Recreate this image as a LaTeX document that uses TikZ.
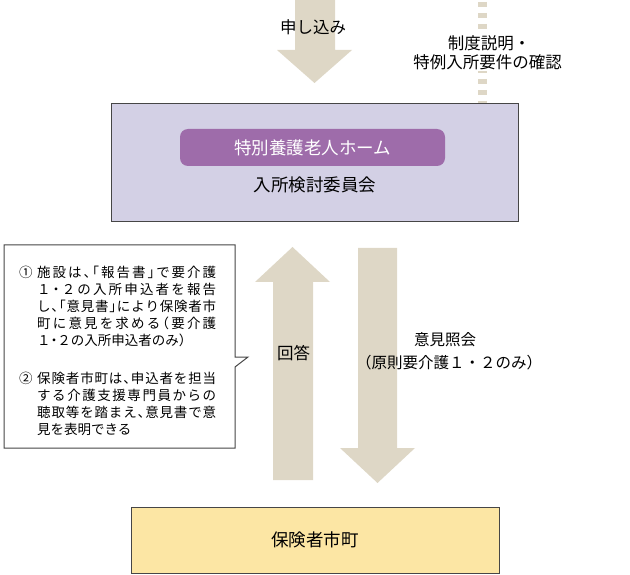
\documentclass[tikz,border=0pt]{standalone}
\usepackage{fontspec}
\setmainfont{Noto Sans CJK JP}
\newfontfamily\jpfont{Noto Sans CJK JP}
\newfontfamily\gothicnote[RawFeature=+halt]{Noto Sans CJK JP}
\definecolor{arrowbeige}{RGB}{222,215,198}
\definecolor{lavender}{RGB}{211,208,229}
\definecolor{homepurple}{RGB}{158,108,170}
\definecolor{cityyellow}{RGB}{252,230,164}
\definecolor{edgegray}{RGB}{70,70,70}
\ExplSyntaxOn
\NewDocumentCommand\spreadline{m}{\hbox~to~179pt{\tl_map_inline:nn{#1}{##1\hfil}\unskip}}
\ExplSyntaxOff
\tikzset{
  blockarrow/.style={fill=arrowbeige, draw=none},
  label16/.style={font=\jpfont\fontsize{16.5}{20}\selectfont, inner sep=1pt},
  label17/.style={font=\jpfont\fontsize{17.5}{21}\selectfont, inner sep=0pt},
  notetext/.style={font=\gothicnote\fontsize{13.5}{17}\selectfont, anchor=west, inner sep=0pt},
  boxedge/.style={draw=edgegray, line width=1pt}
}
\begin{document}
\begin{tikzpicture}[x=1pt,y=-1pt]
\useasboundingbox (0,0) rectangle (630,575);
% boxes
\node[boxedge, fill=lavender, minimum width=407pt, minimum height=118pt, inner sep=0pt] (home) at (314.5,163) {};
\node[fill=homepurple, rounded corners=8pt, minimum width=265pt, minimum height=37pt, inner sep=0pt,
      label17, text=white] (homename) at (312.5,147.5) {特別養護老人ホーム};
\node[label17] (committee) at (315,185) {入所検討委員会};
\node[boxedge, fill=cityyellow, minimum width=368pt, minimum height=66pt, inner sep=0pt,
      label17] (city) at (315,540) {保険者市町};
% top arrow (application)
\fill[blockarrow] (295,0) -- (335,0) -- (335,50) -- (352,50) -- (314.5,83) -- (277,50) -- (295,50) -- cycle;
\node[label16] (apply) at (313,27) {申し込み};
% dashed line
\coordinate (dashtop) at (482.5,2);
\coordinate (dashbot) at (home.north -| dashtop);
\draw[arrowbeige, line width=9pt, dash pattern=on 5pt off 6pt] (dashtop) -- (dashbot);
\node[label16, fill=white] (expl1) at (489,43) {制度説明・};
\node[label16, fill=white] (expl2) at (487.5,62) {特例入所要件の確認};
% up arrow (answer)
\fill[blockarrow] (273,480) -- (273,282) -- (255,282) -- (292.5,247) -- (330,282) -- (313,282) -- (313,480) -- cycle;
\node[label16] (answer) at (293.5,353) {回答};
% down arrow (opinion request)
\fill[blockarrow] (358,248) -- (397,248) -- (397,448) -- (415,448) -- (377.5,483) -- (340,448) -- (358,448) -- cycle;
\node[font=\jpfont\fontsize{15.5}{19}\selectfont, inner sep=0pt] (req1) at (445,340) {意見照会};
\node[font=\jpfont\fontsize{15.5}{19}\selectfont, inner sep=0pt] (req2) at (449,363) {（原則要介護１・２のみ）};
% callout
\draw[draw=edgegray, line width=1pt, fill=white] (4,245) -- (235,245) -- (235,357) -- (248,357) -- (235,367) -- (235,448) -- (4,448) -- cycle;
\node[notetext] (n1a) at (19,272) {①};
\node[notetext] (n1b) at (37,272) {\spreadline{施設は、「報告書」で要介護}};
\node[notetext] (n1c) at (37,289) {\spreadline{１・２の入所申込者を報告}};
\node[notetext] (n1d) at (37,306) {\spreadline{し、「意見書」により保険者市}};
\node[notetext] (n1e) at (37,323) {\spreadline{町に意見を求める（要介護}};
\node[notetext] (n1f) at (37,340) {１・２の入所申込者のみ）};
\node[notetext] (n2a) at (19,378) {②};
\node[notetext] (n2b) at (37,378) {\spreadline{保険者市町は、申込者を担当}};
\node[notetext] (n2c) at (37,395) {\spreadline{する介護支援専門員からの}};
\node[notetext] (n2d) at (37,412) {\spreadline{聴取等を踏まえ、意見書で意}};
\node[notetext] (n2e) at (37,429) {見を表明できる};
\end{tikzpicture}
\end{document}
